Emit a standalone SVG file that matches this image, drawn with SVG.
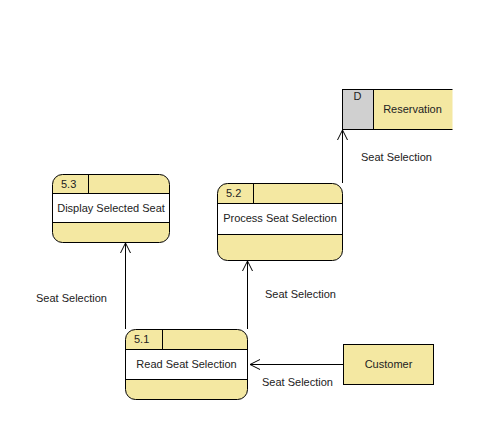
<svg xmlns="http://www.w3.org/2000/svg" width="498" height="445" viewBox="0 0 498 445">
<defs>
<style>
text{font-family:"Liberation Sans",Arial,sans-serif;font-size:11px;fill:#222}
.y{fill:#f4e8a2;stroke:#000;stroke-width:1}
.w{fill:#fff;stroke:#000;stroke-width:1}
.l{stroke:#000;stroke-width:1;fill:none}
.c{stroke:#000;stroke-width:1;fill:none}
</style>
<marker id="ah" viewBox="0 0 12 12" refX="11" refY="6" markerWidth="12" markerHeight="12" markerUnits="userSpaceOnUse" orient="auto">
<path d="M1,1 L11,6 L1,11" fill="none" stroke="#000" stroke-width="1"/>
</marker>
</defs>
<rect width="498" height="445" fill="#fff"/>
<g id="connectors">
<line class="c" x1="125.5" y1="329" x2="125.5" y2="243" marker-end="url(#ah)"/>
<text x="36" y="302">Seat Selection</text>
<line class="c" x1="247.5" y1="329" x2="247.5" y2="261" marker-end="url(#ah)"/>
<text x="265" y="298">Seat Selection</text>
<line class="c" x1="342.5" y1="183" x2="342.5" y2="130" marker-end="url(#ah)"/>
<text x="361" y="161">Seat Selection</text>
<line class="c" x1="343" y1="364.5" x2="250" y2="364.5" marker-end="url(#ah)"/>
<text x="262" y="386">Seat Selection</text>
</g>
<g id="p53">
<rect class="y" x="52.5" y="174.5" width="117" height="68" rx="10"/>
<rect class="w" x="52.5" y="193.5" width="117" height="29"/>
<line class="l" x1="88.5" y1="174.5" x2="88.5" y2="193.5"/>
<text x="61" y="188">5.3</text>
<text x="111" y="212" text-anchor="middle">Display Selected Seat</text>
</g>
<g id="p52">
<rect class="y" x="217.5" y="183.5" width="125" height="77" rx="10"/>
<rect class="w" x="217.5" y="203.5" width="125" height="31"/>
<line class="l" x1="253.5" y1="183.5" x2="253.5" y2="203.5"/>
<text x="226" y="197">5.2</text>
<text x="280" y="222" text-anchor="middle">Process Seat Selection</text>
</g>
<g id="p51">
<rect class="y" x="125.5" y="329.5" width="122" height="70" rx="10"/>
<rect class="w" x="125.5" y="349.5" width="122" height="30"/>
<line class="l" x1="162.5" y1="329.5" x2="162.5" y2="349.5"/>
<text x="134" y="343">5.1</text>
<text x="186.5" y="368" text-anchor="middle">Read Seat Selection</text>
</g>
<g id="reservation">
<rect x="342.5" y="89.5" width="110" height="40" fill="#f4e8a2"/>
<rect x="342.5" y="89.5" width="31" height="40" fill="#d0d0d0" stroke="#000"/>
<path class="l" d="M373.5,89.5 H452.5 M373.5,129.5 H452.5"/>
<text x="357.5" y="100" text-anchor="middle">D</text>
<text x="412.5" y="113" text-anchor="middle">Reservation</text>
</g>
<g id="customer">
<rect class="y" x="343.5" y="344.5" width="90" height="40"/>
<text x="388.5" y="368" text-anchor="middle">Customer</text>
</g>
</svg>
